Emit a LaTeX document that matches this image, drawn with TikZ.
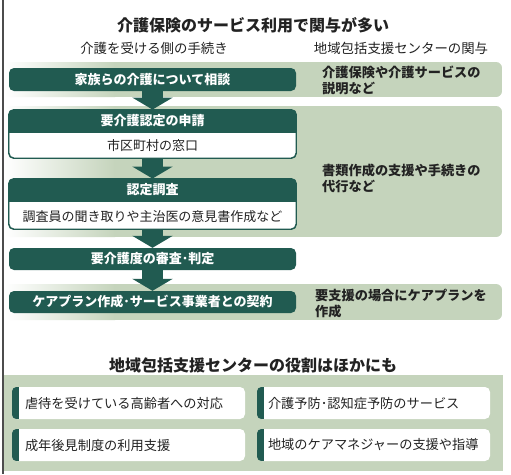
\documentclass[tikz,border=0pt]{standalone}
\usepackage{fontspec}
\setmainfont{Noto Sans CJK JP}
\usetikzlibrary{arrows.meta,calc}
\definecolor{dteal}{HTML}{215B51}
\definecolor{lgreen}{HTML}{C5D4BC}
\definecolor{ink}{HTML}{222222}
\tikzset{
  hdr/.style={fill=dteal, text=white, font=\fontsize{13}{15}\selectfont\bfseries, rounded corners=5pt, minimum width=287pt, inner sep=0pt},
  twobox/.style={fill=white, draw=dteal, line width=0.9pt, rounded corners=5pt, minimum width=287pt, inner sep=0pt},
  hdrtext/.style={text=white, font=\fontsize{13}{15}\selectfont\bfseries, inner sep=0pt},
  bodytext/.style={text=ink, font=\fontsize{13}{15}\selectfont, inner sep=0pt},
  bandtext/.style={text=ink, font=\fontsize{13.2}{16}\selectfont\bfseries, align=left, anchor=west, inner sep=0pt},
  subtitle/.style={text=ink, font=\fontsize{13.4}{15}\selectfont, inner sep=0pt},
  title/.style={text=ink, font=\fontsize{16}{18}\selectfont\bfseries, inner sep=0pt},
  card/.style={fill=white, rounded corners=5pt, minimum width=233pt, minimum height=32pt, inner sep=0pt},
  cardtext/.style={text=ink, font=\fontsize{13.2}{15}\selectfont, anchor=west, inner sep=0pt},
  flow/.style={draw=dteal, line width=21pt, -{Triangle[width=40pt,length=12pt]}, shorten <=-0.5pt},
}
\newcommand{\bandfill}[4]{%
  \begin{scope}
    \clip[rounded corners=6pt] (#1,#2) rectangle (#3,#4);
    \shade[left color=white, right color=lgreen] (#1,#2) rectangle (115,#4);
    \fill[lgreen] (114,#2) rectangle (#3,#4);
  \end{scope}}
\begin{document}
\begin{tikzpicture}[x=1pt,y=-1pt]
\useasboundingbox (0,0) rectangle (511,474);
\fill[white] (0,0) rectangle (511,474);

% titles
\node[title] (t1) at (253,25) {介護保険のサービス利用で関与が多い};
\node[subtitle] (s1) at (154,48) {介護を受ける側の手続き};
\node[subtitle] (s2) at (401,48) {地域包括支援センターの関与};

% bands
\bandfill{5}{62}{502}{97}
\bandfill{5}{106}{502}{237}
\bandfill{5}{284}{502}{320}

\node[bandtext] (n1) at (322,80) {介護保険や介護サービスの\\説明など};
\node[bandtext] (n2) at (322,178) {書類作成の支援や手続きの\\代行など};
\node[bandtext] (n3) at (315,304) {要支援の場合にケアプランを\\作成};

% box 1
\node[hdr, minimum height=23pt] (b1) at (152.5,79.5) {家族らの介護について相談};

% box 2
\node[twobox, minimum height=48pt] (b2) at (152.5,134) {};
\begin{scope}
  \clip[rounded corners=5pt] (b2.north west) rectangle (b2.south east);
  \fill[dteal] (b2.north west) rectangle ($(b2.north east)+(0,23)$);
\end{scope}
\draw[dteal, line width=0.9pt, rounded corners=5pt] (b2.north west) rectangle (b2.south east);
\node[hdrtext] (b2t) at ($(b2.north)+(0,11.5)$) {要介護認定の申請};
\node[bodytext] (b2b) at ($(b2.south)+(0,-12.5)$) {市区町村の窓口};

% box 3
\node[twobox, minimum height=50pt] (b3) at (152.5,204) {};
\begin{scope}
  \clip[rounded corners=5pt] (b3.north west) rectangle (b3.south east);
  \fill[dteal] (b3.north west) rectangle ($(b3.north east)+(0,23)$);
\end{scope}
\draw[dteal, line width=0.9pt, rounded corners=5pt] (b3.north west) rectangle (b3.south east);
\node[hdrtext] (b3t) at ($(b3.north)+(0,11.5)$) {認定調査};
\node[bodytext] (b3b) at ($(b3.south)+(0,-13)$) {調査員の聞き取りや主治医の意見書作成など};

% box 4, 5
\node[hdr, minimum height=22pt] (b4) at (152.5,259) {要介護度の審査･判定};
\node[hdr, minimum height=22pt, font=\fontsize{13}{15}\selectfont\bfseries] (b5) at (152.5,302) {ケアプラン作成･サービス事業者との契約};

% arrows
\draw[flow] (b1.south) -- (b2.north);
\draw[flow] (b2.south) -- (b3.north);
\draw[flow] (b3.south) -- (b4.north);
\draw[flow] (b4.south) -- (b5.north);

% bottom section
\node[title] (t2) at (253,365) {地域包括支援センターの役割はほかにも};
\fill[lgreen] (3,375) rectangle (503,471);

\node[card] (c1) at (128.5,403) {};
\node[card] (c2) at (373.5,403) {};
\node[card] (c3) at (128.5,445) {};
\node[card] (c4) at (373.5,445) {};
\foreach \c in {c1,c2,c3,c4}{
  \begin{scope}
    \clip[rounded corners=5pt] (\c.north west) rectangle (\c.south east);
    \fill[dteal] (\c.north west) rectangle ($(\c.south west)+(7,0)$);
  \end{scope}
}
\node[cardtext] (c1t) at ($(c1.west)+(13,0)$) {虐待を受けている高齢者への対応};
\node[cardtext] (c2t) at ($(c2.west)+(11,0)$) {介護予防･認知症予防のサービス};
\node[cardtext] (c3t) at ($(c3.west)+(13,0)$) {成年後見制度の利用支援};
\node[cardtext] (c4t) at ($(c4.west)+(11,0)$) {地域のケアマネジャーの支援や指導};

% left rule
\draw[black!70, line width=1.2pt] (3,0) -- (3,474);
\end{tikzpicture}
\end{document}
